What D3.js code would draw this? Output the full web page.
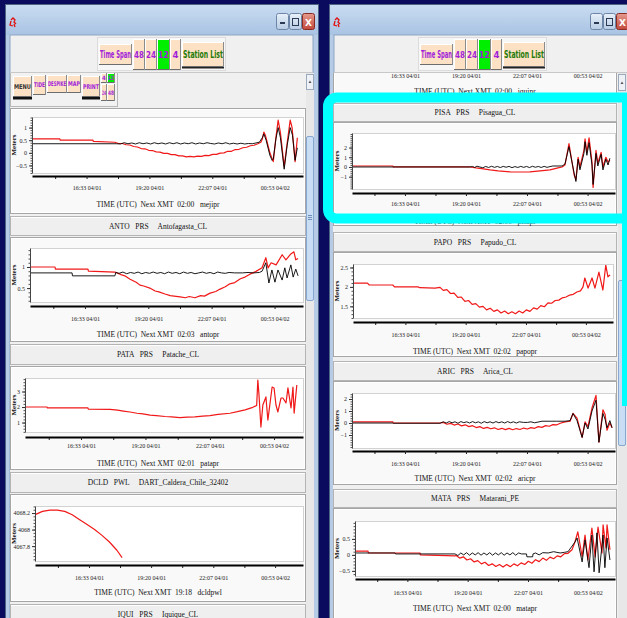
<!DOCTYPE html>
<html>
<head>
<meta charset="utf-8">
<script src="https://cdn.jsdelivr.net/npm/d3@7"></script>
<style>
  html, body { margin: 0; padding: 0; background: #0a0a5e; overflow: hidden; }
  svg { display: block; }
</style>
</head>
<body>
<svg id="screen" width="627" height="618"></svg>
<script>
// ---- time span shown by every gauge plot (12 h window, UTC) ----
const spanStart = new Date(Date.UTC(2014, 3, 1, 14, 8));
const spanEnd   = new Date(Date.UTC(2014, 3, 2, 2, 8));
const tickTimes = [
  new Date(Date.UTC(2014, 3, 1, 16, 33)),
  new Date(Date.UTC(2014, 3, 1, 19, 20)),
  new Date(Date.UTC(2014, 3, 1, 22, 7)),
  new Date(Date.UTC(2014, 3, 2, 0, 53))
];
const spanButtons = ["48", "24", "12", "4"];
const activeSpan = "12";
const menuButtons = ["MENU", "TIDE", "DESPIKE", "MAP", "PRINT"];
const menuSpans = ["4", "12", "24", "48"];

// ---- sea level series: [minutes after span start, metres] ----
const mejiRaw = [[0,.55],[74,.55],[75,.5],[162,.5],[163,.45],[220,.42],[230,.37],[240,.37],[250,.32],[260,.31],[270,.25],[280,.23],[290,.17],[300,.16],[310,.1],[320,.09],[330,.04],[340,.03],[350,-.02],[360,-.02],[370,-.07],[380,-.07],[390,-.12],[400,-.12],[410,-.16],[420,-.14],[430,-.16],[440,-.13],[450,-.14],[460,-.1],[470,-.11],[480,-.06],[490,-.06],[500,-.01],[510,0],[520,.06],[530,.06],[540,.13],[550,.14],[560,.2],[570,.22],[580,.28],[590,.3],[600,.36],[608,.42],[612,.55],[616,.82],[620,.7],[626,.35],[632,0],[641,-.35],[648,.6],[654,1.3],[660,.8],[670,-.55],[678,.4],[686,1.3],[691,1],[699,-.35],[705,.6]];
const mejiDetided = [[0,.36],[225,.36],[235,.35],[245,.4],[255,.36],[265,.39],[275,.35],[285,.4],[295,.36],[305,.39],[315,.35],[325,.4],[335,.36],[345,.39],[355,.35],[365,.4],[375,.36],[385,.4],[395,.35],[405,.39],[415,.36],[425,.4],[435,.35],[445,.39],[455,.36],[465,.4],[475,.37],[485,.35],[495,.39],[505,.36],[515,.4],[525,.35],[535,.38],[545,.35],[555,.38],[565,.35],[575,.37],[585,.36],[595,.39],[604,.42],[612,.6],[616,.75],[622,.5],[632,-.1],[638,-.3],[641,-.25],[648,.55],[654,1],[660,.6],[670,-.65],[678,.3],[686,1],[692,.7],[699,-.3],[705,.2]];

const antoRaw = [[0,1],[66,1],[67,.95],[153,.95],[154,.9],[224,.88],[240,.82],[250,.79],[264,.71],[280,.64],[290,.57],[300,.55],[316,.5],[330,.43],[340,.41],[356,.36],[370,.32],[380,.31],[396,.29],[410,.27],[420,.3],[435,.27],[450,.32],[460,.31],[475,.38],[490,.42],[500,.47],[515,.53],[527,.6],[540,.63],[555,.72],[567,.76],[580,.83],[595,.89],[612,.98],[622,1.22],[628,.98],[636,1.1],[649,1.05],[665,1.29],[675,1.17],[688,1.31],[696,1.36],[701,1.17],[707,1.2]];
const antoDetided = [[0,.86],[111,.86],[112,.79],[224,.79],[226,.87],[235,.85],[245,.88],[255,.84],[265,.87],[275,.85],[285,.88],[295,.84],[305,.87],[315,.85],[325,.88],[335,.85],[345,.87],[355,.84],[365,.88],[375,.85],[385,.87],[395,.84],[405,.88],[415,.85],[425,.87],[435,.84],[445,.86],[455,.88],[465,.85],[475,.87],[485,.84],[495,.88],[505,.86],[515,.85],[525,.87],[540,.86],[560,.86],[575,.87],[590,.86],[605,.87],[612,.9],[622,1.1],[630,.62],[638,.93],[646,.64],[654,.93],[665,.69],[672,.98],[678,.74],[688,1.05],[694,.76],[701,.95],[707,.79]];

const pataRaw = [[0,2],[57,2],[58,1.94],[163,1.94],[164,1.87],[220,1.85],[240,1.8],[255,1.74],[272,1.68],[290,1.6],[305,1.56],[324,1.48],[340,1.45],[363,1.39],[380,1.36],[401,1.32],[420,1.35],[440,1.36],[460,1.41],[479,1.45],[500,1.52],[531,1.6],[550,1.7],[570,1.82],[590,1.98],[600,2.1],[603,3.74],[606,2.8],[611,.71],[616,2.13],[624,2.65],[629,1.16],[640,3.29],[645,3.23],[650,2.13],[655,1.68],[663,2.58],[668,2.58],[676,2.26],[681,3.23],[689,1.94],[694,3.29],[697,1.61],[704,3.42]];

const dcldRaw = [[0,4068.18],[20,4068.22],[40,4068.235],[60,4068.235],[80,4068.22],[100,4068.18],[120,4068.12],[140,4068.06],[160,4068],[180,4067.93],[200,4067.85],[220,4067.75],[234,4067.66]];

const pisaRaw = [[0,.1],[112,.1],[113,0],[323,0],[340,-.1],[360,-.2],[378,-.3],[400,-.4],[433,-.5],[460,-.52],[487,-.5],[515,-.4],[542,-.3],[564,-.1],[575,0],[583,.2],[594,2.4],[608,-.8],[613,-1.3],[619,1],[624,0],[635,1.7],[638,2.9],[643,1.5],[649,3],[657,.5],[660,-2.1],[668,1.7],[673,.4],[682,1.5],[687,0],[695,1],[701,.5],[706,.7]];
const pisaDetided = [[0,0],[323,0],[330,.05],[336,-.05],[342,.08],[350,0],[358,-.08],[366,.05],[374,-.05],[382,.07],[390,-.04],[398,.05],[406,-.06],[414,.06],[422,-.03],[430,.06],[438,-.07],[446,.04],[454,-.05],[462,.06],[470,-.04],[478,.05],[486,-.06],[494,.07],[502,-.03],[510,.05],[518,-.05],[526,.06],[534,-.04],[542,.04],[550,.1],[575,.1],[583,.3],[594,2.1],[608,-.6],[613,-1.5],[619,.8],[624,-.3],[635,1.4],[638,2.6],[643,1.2],[649,2.5],[657,.2],[660,-1.8],[668,1.4],[673,.1],[682,1.3],[687,-.3],[695,.8],[701,.2],[706,.9]];

const papoRaw = [[0,2.1],[40,2.1],[45,2.05],[110,2.05],[115,2],[180,2],[185,1.98],[227,1.97],[241,1.99],[250,1.91],[260,1.93],[270,1.83],[280,1.84],[290,1.73],[300,1.74],[310,1.63],[320,1.65],[330,1.55],[340,1.57],[350,1.48],[360,1.5],[370,1.41],[380,1.45],[390,1.37],[400,1.41],[410,1.33],[420,1.38],[430,1.31],[440,1.36],[450,1.31],[460,1.38],[470,1.33],[480,1.41],[490,1.37],[500,1.46],[510,1.43],[520,1.52],[530,1.49],[540,1.59],[550,1.58],[560,1.65],[570,1.66],[580,1.72],[590,1.74],[600,1.79],[610,1.81],[620,1.87],[630,1.9],[637,2],[642,2.23],[651,1.97],[662,2.23],[670,1.97],[681,2.38],[692,1.92],[700,2.56],[706,2.26],[712,2.31]];

const aricRaw = [[0,.1],[112,.1],[113,0],[241,0],[250,.05],[260,-.1],[270,-.03],[280,-.17],[290,-.08],[300,-.24],[310,-.15],[320,-.3],[330,-.22],[340,-.38],[350,-.3],[360,-.45],[370,-.36],[380,-.48],[390,-.4],[400,-.54],[410,-.44],[420,-.55],[430,-.45],[440,-.56],[450,-.46],[460,-.54],[470,-.42],[480,-.5],[490,-.38],[500,-.44],[510,-.3],[520,-.36],[530,-.22],[540,-.27],[550,-.13],[560,-.16],[570,-.02],[583,.1],[597,.15],[605,.8],[616,.4],[630,-1.2],[638,.1],[646,-.3],[657,1.25],[668,2.3],[676,-1.6],[687,1.1],[693,.7],[698,-.6],[706,0],[712,-.4]];
const aricDetided = [[0,0],[112,0],[113,-.02],[241,-.02],[250,.1],[258,0],[266,.12],[274,.02],[282,.1],[290,-.02],[298,.12],[306,.03],[314,.1],[322,0],[330,.12],[338,.02],[346,.1],[354,-.02],[362,.12],[370,.02],[378,.1],[386,0],[394,.12],[402,.02],[410,.1],[418,0],[426,.12],[434,.02],[442,.1],[450,0],[458,.1],[470,.05],[480,.05],[490,.1],[500,.02],[520,.15],[545,.15],[560,.15],[583,.15],[597,.2],[605,.8],[616,.2],[630,-1.2],[638,0],[646,-.5],[657,1],[668,1.9],[676,-1.6],[687,.8],[693,.3],[698,-.4],[706,.2],[712,-.4]];

const mataRaw = [[0,.12],[36,.12],[37,.06],[180,.06],[181,0],[277,-.03],[280,-.02],[290,-.1],[300,-.06],[310,-.16],[320,-.12],[330,-.22],[340,-.18],[350,-.28],[360,-.23],[370,-.33],[380,-.28],[390,-.36],[400,-.3],[410,-.38],[420,-.3],[430,-.37],[440,-.28],[450,-.34],[460,-.25],[470,-.3],[480,-.2],[490,-.26],[500,-.15],[510,-.21],[520,-.1],[530,-.17],[540,-.07],[550,-.12],[560,-.03],[570,-.06],[580,.04],[590,.05],[601,.16],[609,.4],[617,.72],[629,-.05],[637,.62],[645,-.16],[656,.84],[665,-.06],[673,.87],[684,.06],[687,.94],[695,.22],[698,.94],[706,.16]];
const mataDetided = [[0,.06],[111,.06],[112,.03],[277,.03],[285,-.02],[293,.06],[301,0],[309,.07],[317,-.01],[325,.06],[333,0],[341,.07],[349,-.01],[357,.06],[365,0],[373,.07],[381,-.01],[389,.06],[397,0],[405,.07],[413,-.01],[421,.06],[429,0],[437,.07],[445,-.01],[453,.06],[461,.03],[475,.03],[476,-.06],[492,-.06],[493,.03],[500,.06],[510,0],[520,.07],[535,.06],[550,.1],[568,.06],[580,.08],[590,.1],[609,.4],[615,.53],[629,-.22],[637,.47],[648,-.4],[656,.62],[662,-.53],[670,.69],[676,-.56],[687,.62],[692,-.4],[698,.53],[706,-.16]];

// ---- styling ----
const serif = "'Liberation Serif','DejaVu Serif',serif";
const narrow = "'Liberation Sans Narrow','DejaVu Sans Condensed','Liberation Sans',sans-serif";
const purple = "#a11fd9", peach = "#fde1c5", btnGreen = "#00ee00", stationGreen = "#227a08";

const svg = d3.select("#screen");
const W = 627, H = 618;
const defs = svg.append("defs");
const tg = defs.append("linearGradient").attr("id", "titleGrad").attr("x1", 0).attr("y1", 0).attr("x2", 0).attr("y2", 1);
tg.append("stop").attr("offset", "0%").attr("stop-color", "#c9dcf1");
tg.append("stop").attr("offset", "100%").attr("stop-color", "#a9c3e3");
const bg = defs.append("linearGradient").attr("id", "ctlGrad").attr("x1", 0).attr("y1", 0).attr("x2", 0).attr("y2", 1);
bg.append("stop").attr("offset", "0%").attr("stop-color", "#e9f1fa");
bg.append("stop").attr("offset", "100%").attr("stop-color", "#b7cbe3");
const cg = defs.append("linearGradient").attr("id", "closeGrad").attr("x1", 0).attr("y1", 0).attr("x2", 0).attr("y2", 1);
cg.append("stop").attr("offset", "0%").attr("stop-color", "#e59a8e");
cg.append("stop").attr("offset", "100%").attr("stop-color", "#c2493c");

svg.append("rect").attr("width", W).attr("height", H).attr("fill", "#0a0a5e");

const minuteToDate = m => d3.utcMinute.offset(spanStart, m);
let clipCount = 0;

// squeeze a text horizontally about its centre so it fits a given width
function fitText(t, cx, maxW) {
  const w = t.node().getComputedTextLength();
  if (w > maxW) {
    const k = maxW / w;
    t.attr("transform", `translate(${cx},0) scale(${k},1) translate(${-cx},0)`);
  }
}

function drawWindow(x, w, ctlX) {
  const g = svg.append("g");
  g.append("rect").attr("x", x + .5).attr("y", 4.5).attr("width", w).attr("height", H)
    .attr("fill", "#b5cbe6").attr("stroke", "#4d6582");
  g.append("rect").attr("x", x + 1).attr("y", 5).attr("width", w - 1).attr("height", 30)
    .attr("fill", "url(#titleGrad)");
  g.append("rect").attr("x", x + 5).attr("y", 35).attr("width", w - 10).attr("height", H - 35)
    .attr("fill", "#f0f0f0").attr("stroke", "#8ea6c4");
  // application icon
  g.append("path")
    .attr("d", `M${x + 6},20 l2,-2 l2,2 l-1,2 l2,2 m-5,-3 l-1,4 l3,1 m1,-2 l1,3`)
    .attr("fill", "none").attr("stroke", "#e01010").attr("stroke-width", 1.3);
  // caption buttons
  const ctl = [["min", 0, "url(#ctlGrad)"], ["max", 13, "url(#ctlGrad)"], ["close", 26, "url(#closeGrad)"]];
  ctl.forEach(([k, dx, f]) => {
    g.append("rect").attr("x", ctlX + dx + .5).attr("y", 13.5).attr("width", 12).attr("height", 16).attr("rx", 2)
      .attr("fill", f).attr("stroke", k === "close" ? "#8a2b22" : "#6d86a8");
  });
  g.append("rect").attr("x", ctlX + 4).attr("y", 22).attr("width", 5).attr("height", 2).attr("fill", "#2b3b55");
  g.append("rect").attr("x", ctlX + 16.5).attr("y", 18.5).attr("width", 6).attr("height", 7).attr("fill", "none").attr("stroke", "#2b3b55");
  g.append("text").attr("x", ctlX + 32.5).attr("y", 25.5).attr("text-anchor", "middle")
    .attr("font-family", "'DejaVu Sans',sans-serif").attr("font-size", 9).attr("font-weight", "bold")
    .attr("fill", "#fff").text("X");
  g.append("line").attr("x1", x + 5).attr("x2", x + w - 5).attr("y1", 72.5).attr("y2", 72.5).attr("stroke", "#c8c8c8");
  return g;
}

function button(g, x, y, w, h, label, color, face, size, opts = {}) {
  const b = g.append("g");
  b.append("rect").attr("x", x).attr("y", y).attr("width", w).attr("height", h).attr("fill", face);
  b.append("line").attr("x1", x).attr("x2", x + w).attr("y1", y + .5).attr("y2", y + .5).attr("stroke", "#ffffff");
  b.append("line").attr("x1", x + .5).attr("x2", x + .5).attr("y1", y).attr("y2", y + h).attr("stroke", "#ffffff");
  b.append("line").attr("x1", x).attr("x2", x + w).attr("y1", y + h - .5).attr("y2", y + h - .5).attr("stroke", "#6d6d6d");
  b.append("line").attr("x1", x + w - .5).attr("x2", x + w - .5).attr("y1", y).attr("y2", y + h).attr("stroke", "#8a8a8a");
  if (opts.shadow) {
    b.append("rect").attr("x", x).attr("y", y + h).attr("width", w).attr("height", 2.5).attr("fill", "#111");
  }
  const t = b.append("text").attr("x", x + w / 2).attr("y", y + h / 2 + size * 0.36)
    .attr("text-anchor", "middle").attr("font-family", narrow).attr("font-weight", "bold")
    .attr("font-size", size).attr("fill", color).text(label);
  fitText(t, x + w / 2, w - 2);
}

function drawSpanBar(g, x0) {
  g.append("rect").attr("x", x0 - 1.5).attr("y", 37.5).attr("width", 128).attr("height", 33)
    .attr("fill", "#f6f6f6").attr("stroke", "#dcdcdc");
  button(g, x0, 44, 33, 21, "Time Span", purple, peach, 10);
  const bx = [34, 46, 58, 71], bw = [12, 12, 13, 11];
  spanButtons.forEach((s, i) => {
    button(g, x0 + bx[i], 39, bw[i], 31, s, purple, s === activeSpan ? btnGreen : peach, 9.5);
  });
  button(g, x0 + 83, 42, 42, 25, "Station List", stationGreen, peach, 10);
  g.append("rect").attr("x", x0 + 83).attr("y", 67).attr("width", 42).attr("height", 1.5).attr("fill", "#222");
}

function drawHeader(root, x, y0, w, h, text) {
  root.append("rect").attr("x", x + .5).attr("y", y0 + .5).attr("width", w - 1).attr("height", h - 1)
    .attr("fill", "#efefef").attr("stroke", "#b4b4b4");
  root.append("line").attr("x1", x + 1).attr("x2", x + w - 1).attr("y1", y0 + 1.5).attr("y2", y0 + 1.5).attr("stroke", "#fff");
  root.append("text").attr("x", x + w / 2).attr("y", y0 + h / 2 + 2.6).attr("text-anchor", "middle")
    .attr("font-family", serif).attr("font-size", 7.5).attr("fill", "#111")
    .style("white-space", "pre").text(text);
}

function drawChart(root, c) {
  const [bx, by, bw, bh] = c.box;
  const [pl, pt, pr, pb] = c.plot;
  const g = root.append("g");
  g.append("rect").attr("x", bx + .5).attr("y", by + .5).attr("width", bw - 1).attr("height", bh - 1)
    .attr("fill", "#f9f9f9").attr("stroke", "#a6a6a6");
  g.append("rect").attr("x", bx + 1.5).attr("y", by + 1.5).attr("width", bw - 3).attr("height", bh - 3)
    .attr("fill", "none").attr("stroke", "#ffffff");

  const x = d3.scaleUtc().domain([spanStart, spanEnd]).range([pl, pr]);
  const y = d3.scaleLinear().domain(c.yDomain).range([pb, pt]);

  g.append("rect").attr("x", pl + .5).attr("y", pt + .5).attr("width", pr - pl).attr("height", pb - pt)
    .attr("fill", "#ffffff").attr("stroke", "#d2d2d2");

  // y axis with small minor ticks
  if (c.yTicks.length) {
    const step = c.yTicks.length > 1 ? c.yTicks[1] - c.yTicks[0] : 0.5;
    const minor = d3.range(Math.ceil(c.yDomain[0] / (step / 5)), Math.floor(c.yDomain[1] / (step / 5)) + 1)
      .map(k => k * step / 5);
    const ym = g.append("g").attr("transform", `translate(${pl},0)`)
      .call(d3.axisLeft(y).tickValues(minor).tickSize(1.5).tickFormat(""));
    ym.select(".domain").remove();
    ym.selectAll("line").attr("stroke", "#555");
    const ya = g.append("g").attr("transform", `translate(${pl},0)`)
      .call(d3.axisLeft(y).tickValues(c.yTicks).tickSize(3).tickSizeOuter(0).tickPadding(2).tickFormat(d3.format("~g")));
    ya.select(".domain").attr("stroke", "#444");
    ya.selectAll("line").attr("stroke", "#333");
    ya.selectAll("text").attr("font-family", serif).attr("font-size", 6).attr("fill", "#222");
    g.append("text").attr("transform", `translate(${bx + 6},${(pt + pb) / 2}) rotate(-90)`)
      .attr("text-anchor", "middle").attr("font-family", serif).attr("font-size", 7).attr("font-weight", "bold")
      .attr("fill", "#111").text("Meters");
  }

  // time axis
  const half = (tickTimes[1] - tickTimes[0]) / 2;
  const minorTimes = [tickTimes[0] - half, ...tickTimes.map(t => +t + half)]
    .map(t => new Date(t)).filter(t => t > spanStart && t < spanEnd);
  const xm = g.append("g").attr("transform", `translate(0,${c.axisY})`)
    .call(d3.axisBottom(x).tickValues(minorTimes).tickSize(3).tickFormat(""));
  xm.select(".domain").remove();
  xm.selectAll("line").attr("stroke", "#222");
  const pad = (c.tickC - c.axisY) - 5.3;
  const xa = g.append("g").attr("transform", `translate(0,${c.axisY})`)
    .call(d3.axisBottom(x).tickValues(tickTimes).tickSize(3).tickSizeOuter(0).tickPadding(pad)
      .tickFormat(d3.utcFormat("%H:%M %m/%d")));
  xa.select(".domain").attr("stroke", "#000").attr("stroke-width", 2);
  xa.selectAll("line").attr("stroke", "#222");
  xa.selectAll("text").attr("font-family", serif).attr("font-size", 6).attr("fill", "#222");

  g.append("text").attr("x", bx + bw / 2).attr("y", c.xlabC + 2.6).attr("text-anchor", "middle")
    .attr("font-family", serif).attr("font-size", 7.5).attr("fill", "#111")
    .style("white-space", "pre").text(c.xlab);

  // series
  const id = "plotclip" + (clipCount++);
  defs.append("clipPath").attr("id", id).append("rect")
    .attr("x", pl + 1).attr("y", pt + 1).attr("width", pr - pl - 1).attr("height", pb - pt - 1);
  const line = d3.line().x(d => x(minuteToDate(d[0]))).y(d => y(d[1]));
  const lg = g.append("g").attr("clip-path", `url(#${id})`);
  if (c.raw) lg.append("path").datum(c.raw).attr("d", line).attr("fill", "none")
    .attr("stroke", "#f01818").attr("stroke-width", 1.2).attr("stroke-linejoin", "round");
  if (c.det) lg.append("path").datum(c.det).attr("d", line).attr("fill", "none")
    .attr("stroke", "#000").attr("stroke-width", 0.9).attr("stroke-linejoin", "round");
}

// ================= left window =================
const left = drawWindow(5, 313, 276);
drawSpanBar(left, 99);
defs.append("clipPath").attr("id", "leftView").append("rect").attr("x", 10).attr("y", 73).attr("width", 296).attr("height", 545);
const lv = left.append("g").attr("clip-path", "url(#leftView)");
lv.append("rect").attr("x", 10).attr("y", 73).attr("width", 296).attr("height", 545).attr("fill", "#f0f0f0");

// tool menu
lv.append("rect").attr("x", 10.5).attr("y", 71.5).attr("width", 107).attr("height", 35).attr("fill", "#f2f2f2").attr("stroke", "#b8b8b8");
const mx = [13, 33, 47, 67, 82], mw = [19, 13, 20, 14, 18], my = [76, 75, 75, 75, 76], mh = [21, 20, 18, 18, 21];
menuButtons.forEach((m, i) => {
  button(lv, mx[i], my[i], mw[i], mh[i], m, m === "MENU" ? "#333" : purple, peach, 6.5,
    { shadow: m === "MENU" || m === "PRINT" });
});
const sx = [101, 107, 101, 107], sy = [73, 73, 84, 84], sh = [10, 10, 17, 17], sw = [6, 8, 6, 8];
menuSpans.forEach((s, i) => {
  button(lv, sx[i], sy[i], sw[i], sh[i], s, purple, s === activeSpan ? btnGreen : peach, 6);
});

const leftCharts = [
  { box: [10, 108, 296, 106], plot: [32, 117, 303, 173], axisY: 176, tickC: 188, xlabC: 204,
    yDomain: [-0.8, 1.42], yTicks: [-0.5, 0, 0.5, 1], raw: mejiRaw, det: mejiDetided,
    xlab: "TIME (UTC)  Next XMT  02:00   mejipr" },
  { box: [10, 237, 296, 105], plot: [30, 248, 303, 302], axisY: 306, tickC: 319, xlabC: 334,
    yDomain: [0.17, 1.45], yTicks: [0.5, 1], raw: antoRaw, det: antoDetided,
    xlab: "TIME (UTC)  Next XMT  02:03   antopr" },
  { box: [10, 366, 296, 104], plot: [25, 378, 303, 432], axisY: 437, tickC: 446, xlabC: 463,
    yDomain: [0.39, 3.87], yTicks: [1, 2, 3], raw: pataRaw, det: null,
    xlab: "TIME (UTC)  Next XMT  02:01   patapr" },
  { box: [10, 494, 296, 108], plot: [35, 506, 303, 561], axisY: 565, tickC: 578, xlabC: 592,
    yDomain: [4067.62, 4068.285], yTicks: [4067.8, 4068, 4068.2], raw: dcldRaw, det: null,
    xlab: "TIME (UTC)  Next XMT  19:18   dcldpwl" }
];
const leftHeaders = [
  { y0: 216, h: 20, text: "ANTO   PRS     Antofagasta_CL" },
  { y0: 344, h: 21, text: "PATA   PRS     Patache_CL" },
  { y0: 472, h: 21, text: "DCLD   PWL     DART_Caldera_Chile_32402" },
  { y0: 604, h: 21, text: "IQUI   PRS     Iquique_CL" }
];
leftHeaders.forEach(hd => drawHeader(lv, 10, hd.y0, 296, hd.h, hd.text));
leftCharts.forEach(c => drawChart(lv, c));

// left scrollbar
left.append("rect").attr("x", 306).attr("y", 73).attr("width", 8).attr("height", 545).attr("fill", "#e8e8e8");
left.append("rect").attr("x", 306.5).attr("y", 74.5).attr("width", 7).attr("height", 15).attr("fill", "#eef2f7").attr("stroke", "#9aa9bb");
left.append("path").attr("d", "M308.5,83 l1.5,-2.5 l1.5,2.5 z").attr("fill", "#555");
left.append("rect").attr("x", 306.5).attr("y", 136.5).attr("width", 7).attr("height", 164).attr("rx", 1.5)
  .attr("fill", "#c9def5").attr("stroke", "#86a7d0");
[0, 2, 4].forEach(d => left.append("line").attr("x1", 308).attr("x2", 312).attr("y1", 215.5 + d).attr("y2", 215.5 + d).attr("stroke", "#6f8fb8"));

// ================= right window =================
const right = drawWindow(329, 310, 590);
drawSpanBar(right, 420);
defs.append("clipPath").attr("id", "rightView").append("rect").attr("x", 333).attr("y", 73).attr("width", 285).attr("height", 545);
const rv = right.append("g").attr("clip-path", "url(#rightView)");
rv.append("rect").attr("x", 333).attr("y", 73).attr("width", 285).attr("height", 545).attr("fill", "#f0f0f0");

const rightCharts = [
  { box: [333, 20, 284, 82], plot: [352, 10, 615, 60], axisY: 65, tickC: 76, xlabC: 91,
    yDomain: [0, 1], yTicks: [], raw: null, det: null,
    xlab: "TIME (UTC)  Next XMT  02:00   iquipr" },
  { box: [333, 122, 284, 104], plot: [352, 133, 615, 189], axisY: 193, tickC: 204, xlabC: 221,
    yDomain: [-2.27, 3.5], yTicks: [-1, 0, 1, 2], raw: pisaRaw, det: pisaDetided,
    xlab: "TIME (UTC)  Next XMT  02:00   pisapr" },
  { box: [333, 252, 284, 105], plot: [353, 264, 613, 318], axisY: 322, tickC: 335, xlabC: 351,
    yDomain: [1.2, 2.59], yTicks: [1.5, 2, 2.5], raw: papoRaw, det: null,
    xlab: "TIME (UTC)  Next XMT  02:02   papopr" },
  { box: [333, 381, 284, 104], plot: [352, 393, 615, 448], axisY: 451, tickC: 464, xlabC: 478,
    yDomain: [-2.08, 2.5], yTicks: [-1, 0, 1, 2], raw: aricRaw, det: aricDetided,
    xlab: "TIME (UTC)  Next XMT  02:02   aricpr" },
  { box: [333, 508, 284, 115], plot: [355, 521, 615, 576], axisY: 579, tickC: 593, xlabC: 608,
    yDomain: [-0.66, 1.06], yTicks: [-0.5, 0, 0.5], raw: mataRaw, det: mataDetided,
    xlab: "TIME (UTC)  Next XMT  02:00   matapr" }
];
const rightHeaders = [
  { y0: 103, h: 19, text: "PISA   PRS     Pisagua_CL" },
  { y0: 232, h: 20, text: "PAPO   PRS     Papudo_CL" },
  { y0: 361, h: 20, text: "ARIC   PRS     Arica_CL" },
  { y0: 489, h: 19, text: "MATA   PRS     Matarani_PE" }
];
rightHeaders.forEach(hd => drawHeader(rv, 333, hd.y0, 284, hd.h, hd.text));
rightCharts.forEach(c => drawChart(rv, c));

// right scrollbar (partly visible)
right.append("rect").attr("x", 618).attr("y", 73).attr("width", 9).attr("height", 545).attr("fill", "#e8e8e8");
right.append("rect").attr("x", 618.5).attr("y", 74.5).attr("width", 7).attr("height", 16).attr("fill", "#eef2f7").attr("stroke", "#9aa9bb");
right.append("path").attr("d", "M620.5,84 l1.5,-2.5 l1.5,2.5 z").attr("fill", "#555");
right.append("rect").attr("x", 618.5).attr("y", 280.5).attr("width", 7).attr("height", 165).attr("rx", 1.5)
  .attr("fill", "#c9def5").attr("stroke", "#86a7d0");

// highlight frame around the Pisagua panel
svg.append("rect").attr("x", 328).attr("y", 97.5).attr("width", 320).attr("height", 121).attr("rx", 9)
  .attr("fill", "none").attr("stroke", "#00ffff").attr("stroke-width", 10);
svg.append("rect").attr("x", 622).attr("y", 93).attr("width", 5).attr("height", 313).attr("fill", "#00ffff");
</script>
</body>
</html>
